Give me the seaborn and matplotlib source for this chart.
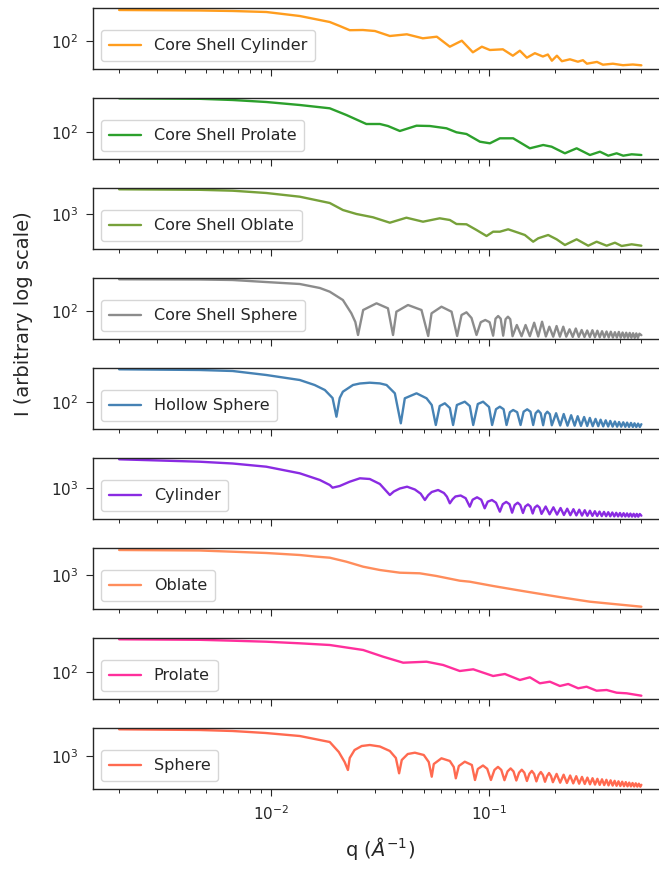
import numpy as np
import pandas as pd
import matplotlib
matplotlib.use("Agg")
import matplotlib.pyplot as plt
import seaborn as sns
from matplotlib.ticker import FixedLocator, NullLocator

# Scattering curves: (q in 1/Angstrom, log10 of intensity in arbitrary units)
CORE_SHELL_CYLINDER = [
    (0.002, 5.07), (0.00468, 5.02), (0.00664, 4.97), (0.00948, 4.87), (0.0135, 4.47),
    (0.01854, 3.87), (0.0206, 3.47), (0.0229, 3.05), (0.0263, 3.07), (0.0299, 2.97),
    (0.0350, 2.47), (0.0419, 2.64), (0.0496, 2.24), (0.0575, 2.40), (0.0660, 1.40),
    (0.0749, 2.00), (0.0842, 0.84), (0.0926, 1.40), (0.1008, 1.07), (0.1156, 1.14),
    (0.1285, 0.50), (0.1384, 1.00), (0.149, 0.30), (0.1622, 0.75), (0.1765, 0.42),
    (0.1861, 0.62), (0.1941, 0.00), (0.2047, 0.50), (0.2158, -0.05), (0.2349, 0.14),
    (0.2556, -0.10), (0.2695, 0.05), (0.2812, -0.30), (0.3126, -0.12), (0.333, -0.40),
    (0.370, -0.30), (0.4117, -0.45), (0.457, -0.38), (0.5, -0.46),
]

CORE_SHELL_PROLATE = [
    (0.002, 5.34), (0.00468, 5.29), (0.00664, 5.17), (0.00948, 4.97), (0.0135, 4.67),
    (0.01854, 4.34), (0.0221, 3.67), (0.0273, 2.77), (0.0315, 2.77), (0.0343, 2.57),
    (0.0389, 2.07), (0.0464, 2.60), (0.0534, 2.57), (0.0637, 2.34), (0.0708, 1.94),
    (0.0787, 1.77), (0.0907, 1.00), (0.1008, 0.84), (0.112, 1.34), (0.1289, 1.34),
    (0.1538, 0.34), (0.1771, 0.67), (0.1936, 0.50), (0.2228, -0.16), (0.2522, 0.34),
    (0.2903, -0.33), (0.3227, 0.00), (0.3524, -0.40), (0.385, -0.16), (0.4128, -0.40),
    (0.4513, -0.26), (0.5, -0.33),
]

CORE_SHELL_OBLATE = [
    (0.002, 5.50), (0.00468, 5.45), (0.00664, 5.36), (0.00948, 5.13), (0.0135, 4.76),
    (0.01854, 4.13), (0.0213, 3.43), (0.0246, 3.03), (0.0293, 2.70), (0.0350, 2.16),
    (0.0417, 2.66), (0.0497, 2.26), (0.0593, 2.60), (0.0660, 2.43), (0.0708, 2.03),
    (0.0787, 2.00), (0.0875, 1.43), (0.0973, 0.83), (0.1043, 1.26), (0.112, 1.26),
    (0.1223, 1.50), (0.136, 1.16), (0.1459, 0.93), (0.1593, 0.26), (0.168, 0.60),
    (0.1867, 0.93), (0.2041, 0.50), (0.2228, -0.07), (0.2522, 0.50), (0.2851, -0.14),
    (0.3116, 0.26), (0.3464, -0.14), (0.3782, 0.16), (0.4060, -0.17), (0.4513, 0.00),
    (0.5, -0.14),
]

CORE_SHELL_SPHERE = [
    (0.002, 5.14), (0.00468, 5.12), (0.00664, 5.07), (0.00941, 4.87), (0.0135, 4.67),
    (0.0167, 4.27), (0.01854, 3.90), (0.0213, 3.07), (0.0233, 1.74), (0.0243, 0.87),
    (0.0250, -0.43), (0.0264, 2.07), (0.0304, 2.74), (0.0343, 2.24), (0.0362, -0.43),
    (0.0375, 1.90), (0.0424, 2.57), (0.0489, 2.07), (0.0525, -0.53), (0.0544, 1.74),
    (0.0604, 2.40), (0.0672, 1.90), (0.0713, -0.53), (0.0747, 1.57), (0.0787, 1.84),
    (0.0830, 1.27), (0.0875, -0.43), (0.0915, 0.85), (0.096, 1.07), (0.1005, 0.85),
    (0.1043, -0.50), (0.107, 1.20), (0.110, 1.47), (0.113, 1.20), (0.116, -0.50),
    (0.119, 1.15), (0.122, 1.40), (0.125, 1.15), (0.1281, -0.55), (0.134, 0.57),
    (0.1409, -0.55), (0.147, 0.57), (0.1538, -0.55), (0.161, 0.80), (0.168, -0.58),
    (0.175, 0.90), (0.1822, -0.58), (0.189, 0.40), (0.1969, -0.60), (0.204, 0.47),
    (0.2113, -0.60), (0.219, 0.40), (0.226, -0.60), (0.234, 0.14), (0.242, -0.62),
    (0.250, 0.22), (0.258, -0.62), (0.266, 0.07), (0.274, -0.63), (0.282, 0.02),
    (0.290, -0.64), (0.298, 0.05), (0.306, -0.65), (0.314, 0.00), (0.322, -0.66),
    (0.330, -0.05), (0.338, -0.66), (0.346, -0.08), (0.354, -0.67), (0.362, -0.10),
    (0.370, -0.68), (0.378, -0.15), (0.386, -0.68), (0.394, -0.12), (0.402, -0.69),
    (0.410, -0.18), (0.418, -0.69), (0.426, -0.20), (0.434, -0.70), (0.442, -0.22),
    (0.450, -0.70), (0.458, -0.25), (0.466, -0.71), (0.474, -0.27), (0.482, -0.71),
    (0.490, -0.30), (0.5, -0.45),
]

HOLLOW_SPHERE = [
    (0.002, 5.24), (0.00468, 5.17), (0.00664, 5.07), (0.00948, 4.67), (0.0135, 4.17),
    (0.0158, 3.67), (0.0176, 3.17), (0.0191, 2.37), (0.0199, 0.50), (0.0206, 2.37),
    (0.0213, 3.00), (0.0237, 3.67), (0.0255, 3.82), (0.0283, 3.90), (0.0315, 3.83),
    (0.0338, 3.67), (0.0369, 2.84), (0.0393, -0.16), (0.0410, 2.34), (0.0464, 2.84),
    (0.0516, 2.34), (0.0545, 1.67), (0.0569, -0.33), (0.0593, 1.57), (0.0626, 1.84),
    (0.0660, 1.37), (0.0683, -0.33), (0.0711, 1.67), (0.0773, 2.00), (0.0815, 1.57),
    (0.0845, -0.33), (0.0887, 1.77), (0.0938, 2.00), (0.0999, 1.47), (0.1032, -0.33),
    (0.1075, 1.25), (0.112, 1.50), (0.1165, 1.25), (0.1202, -0.33), (0.1245, 0.95),
    (0.1289, 1.17), (0.1345, 0.95), (0.1394, -0.33), (0.1440, 1.00), (0.1495, 1.24),
    (0.1548, 1.00), (0.1593, -0.33), (0.1635, 0.85), (0.168, 1.12), (0.1725, 0.85),
    (0.177, -0.35), (0.181, 0.75), (0.185, 1.00), (0.190, 0.75), (0.194, -0.36),
    (0.203, 0.85), (0.212, -0.38), (0.220, 0.77), (0.229, -0.40), (0.238, 0.65),
    (0.247, -0.40), (0.255, 0.55), (0.264, -0.42), (0.273, 0.47), (0.282, -0.43),
    (0.290, 0.38), (0.299, -0.45), (0.308, 0.28), (0.317, -0.45), (0.325, 0.20),
    (0.334, -0.47), (0.343, 0.14), (0.352, -0.48), (0.360, 0.08), (0.369, -0.49),
    (0.378, 0.02), (0.387, -0.50), (0.395, -0.03), (0.404, -0.50), (0.413, -0.06),
    (0.422, -0.51), (0.430, -0.09), (0.439, -0.52), (0.448, -0.12), (0.457, -0.52),
    (0.465, -0.16), (0.474, -0.53), (0.483, -0.19), (0.492, -0.53), (0.5, -0.25),
]

CYLINDER = [
    (0.002, 5.84), (0.00468, 5.60), (0.00664, 5.42), (0.00948, 5.10), (0.0135, 4.44),
    (0.0167, 3.77), (0.01854, 3.27), (0.0191, 3.00), (0.0206, 3.17), (0.0229, 3.60),
    (0.0255, 3.94), (0.0283, 3.87), (0.0315, 3.37), (0.0350, 2.27), (0.0365, 2.62),
    (0.0389, 2.92), (0.0420, 3.10), (0.0456, 2.82), (0.0485, 2.40), (0.0507, 1.77),
    (0.0525, 2.25), (0.0545, 2.57), (0.0583, 2.77), (0.0620, 2.47), (0.0640, 2.10),
    (0.0660, 1.44), (0.0680, 1.85), (0.0700, 2.12), (0.0740, 2.22), (0.0780, 1.95),
    (0.0815, 1.10), (0.0840, 1.80), (0.0880, 2.04), (0.0920, 1.80), (0.0954, 0.94),
    (0.0985, 1.60), (0.1030, 1.77), (0.1075, 1.50), (0.1120, 0.60), (0.1155, 1.35),
    (0.1198, 1.58), (0.1240, 1.35), (0.1275, 0.50), (0.131, 1.27), (0.1353, 1.50),
    (0.139, 1.27), (0.143, 0.47), (0.1465, 1.12), (0.1508, 1.33), (0.1548, 1.12),
    (0.1585, 0.42), (0.162, 1.02), (0.1663, 1.22), (0.1703, 1.02), (0.174, 0.38),
    (0.1818, 1.12), (0.1895, 0.34), (0.1973, 1.04), (0.205, 0.31), (0.2128, 0.97),
    (0.2205, 0.27), (0.2283, 0.90), (0.236, 0.25), (0.2438, 0.85), (0.2515, 0.23),
    (0.2593, 0.80), (0.267, 0.21), (0.2748, 0.75), (0.2825, 0.19), (0.2903, 0.70),
    (0.298, 0.18), (0.3058, 0.65), (0.3135, 0.17), (0.3213, 0.61), (0.329, 0.16),
    (0.3368, 0.58), (0.3445, 0.15), (0.3523, 0.55), (0.36, 0.14), (0.3678, 0.52),
    (0.3755, 0.13), (0.3833, 0.49), (0.391, 0.13), (0.3988, 0.47), (0.4065, 0.12),
    (0.4143, 0.45), (0.422, 0.12), (0.4298, 0.43), (0.4375, 0.11), (0.4453, 0.41),
    (0.453, 0.11), (0.4608, 0.39), (0.4685, 0.10), (0.4763, 0.38), (0.484, 0.10),
    (0.4918, 0.37), (0.5, 0.20),
]

OBLATE = [
    (0.002, 5.50), (0.00468, 5.45), (0.00664, 5.33), (0.00948, 5.20), (0.0135, 5.00),
    (0.0158, 4.85), (0.01854, 4.73), (0.0221, 4.33), (0.0264, 3.83), (0.0315, 3.50),
    (0.0389, 3.23), (0.0480, 3.17), (0.0573, 2.90), (0.0733, 2.43), (0.0815, 2.33),
    (0.1043, 1.90), (0.1336, 1.50), (0.1651, 1.17), (0.2196, 0.73), (0.2903, 0.33),
    (0.385, 0.07), (0.5, -0.17),
]

PROLATE = [
    (0.002, 5.24), (0.00468, 5.19), (0.00664, 5.10), (0.00948, 5.00), (0.0135, 4.84),
    (0.01854, 4.67), (0.0264, 4.17), (0.0326, 3.50), (0.0403, 2.90), (0.0516, 3.00),
    (0.0615, 2.67), (0.0733, 2.07), (0.0845, 2.24), (0.1043, 1.57), (0.1181, 1.77),
    (0.1384, 1.17), (0.1538, 1.44), (0.1710, 0.84), (0.1901, 1.00), (0.2113, 0.57),
    (0.2307, 0.77), (0.2564, 0.34), (0.2803, 0.50), (0.3114, 0.10), (0.3464, 0.17),
    (0.385, -0.10), (0.428, -0.16), (0.5, -0.40),
]

SPHERE = [
    (0.002, 5.67), (0.00468, 5.60), (0.00664, 5.50), (0.00941, 5.30), (0.0135, 5.00),
    (0.01854, 4.40), (0.0204, 3.40), (0.0217, 2.40), (0.02247, 1.60), (0.0229, 2.80),
    (0.0241, 3.60), (0.0260, 4.00), (0.0283, 4.10), (0.0315, 3.95), (0.0350, 3.50),
    (0.0373, 2.80), (0.0386, 1.27), (0.0397, 2.60), (0.0423, 3.20), (0.0456, 3.33),
    (0.0501, 3.10), (0.0528, 2.40), (0.0545, 0.93), (0.0557, 2.20), (0.0604, 2.77),
    (0.0660, 2.50), (0.0688, 1.90), (0.0703, 0.77), (0.0726, 2.00), (0.0773, 2.43),
    (0.0833, 2.10), (0.0861, 0.60), (0.0887, 1.70), (0.0937, 2.05), (0.0980, 1.72),
    (0.1019, 0.60), (0.1058, 1.61), (0.1098, 1.91), (0.1137, 1.61), (0.1176, 0.58),
    (0.1215, 1.46), (0.1255, 1.76), (0.1294, 1.46), (0.1333, 0.55), (0.1372, 1.33),
    (0.1412, 1.63), (0.1451, 1.33), (0.1491, 0.50), (0.1530, 1.21), (0.1570, 1.51),
    (0.1609, 1.21), (0.1648, 0.46), (0.1687, 1.10), (0.1727, 1.40), (0.1766, 1.10),
    (0.1805, 0.42), (0.1845, 1.00), (0.1884, 1.30), (0.1923, 1.00), (0.1962, 0.38),
    (0.2041, 1.21), (0.2119, 0.33), (0.2198, 1.13),
    (0.2276, 0.30), (0.2355, 1.05), (0.2433, 0.26), (0.2512, 0.98), (0.2590, 0.23),
    (0.2669, 0.91), (0.2748, 0.20), (0.2826, 0.84), (0.2905, 0.17), (0.2984, 0.78),
    (0.3062, 0.14), (0.3141, 0.72), (0.3219, 0.11), (0.3298, 0.67), (0.3376, 0.09),
    (0.3455, 0.62), (0.3533, 0.06), (0.3612, 0.57), (0.3690, 0.04), (0.3769, 0.52),
    (0.3847, 0.02), (0.3926, 0.47), (0.4004, 0.00), (0.4083, 0.43), (0.4161, -0.02),
    (0.4240, 0.39), (0.4319, -0.03), (0.4397, 0.34), (0.4476, -0.04), (0.4555, 0.30),
    (0.4633, -0.05), (0.4712, 0.27), (0.4790, -0.06), (0.4869, 0.23), (0.4947, -0.07),
    (0.5, 0.12),
]

MODEL_NAMES = ["Core Shell Cylinder", "Core Shell Prolate", "Core Shell Oblate",
               "Core Shell Sphere", "Hollow Sphere", "Cylinder", "Oblate", "Prolate",
               "Sphere"]
MODEL_DATA = [CORE_SHELL_CYLINDER, CORE_SHELL_PROLATE, CORE_SHELL_OBLATE,
              CORE_SHELL_SPHERE, HOLLOW_SPHERE, CYLINDER, OBLATE, PROLATE, SPHERE]
COLORS = ["#ff9d1e", "#2ca02c", "#77a13a", "#8c8c8c", "#4682b4", "#8a2be2",
          "#ff8d5c", "#ff2f9c", "#ff6a50"]

# labelled decade and log10 display range of each panel
TICK_EXPONENT = [2, 2, 3, 2, 2, 3, 3, 2, 3]
LOG_YLIM = [(-0.85, 5.27), (-0.75, 5.37), (-0.49, 5.63), (-0.85, 5.27), (-0.75, 5.37),
            (-0.15, 5.97), (-0.42, 5.70), (-0.75, 5.37), (-0.32, 5.80)]
Q_LIMITS = (10 ** -2.819, 10 ** -0.181)

sns.set_style("ticks")
plt.rcParams["font.family"] = ["DejaVu Sans"]
plt.rcParams["axes.edgecolor"] = "#262626"
plt.rcParams["axes.linewidth"] = 1.0

W, H = 659, 869
fig = plt.figure(figsize=(W / 100, H / 100), dpi=100)

panel_h = 61.2
for i, (name, pts, color) in enumerate(zip(MODEL_NAMES, MODEL_DATA, COLORS)):
    top = 8 + 90 * i
    ax = fig.add_axes([93 / W, 1 - (top + panel_h) / H, 574.5 / W, panel_h / H])
    arr = np.array(pts)
    df = pd.DataFrame({"q": arr[:, 0], "I": 10 ** arr[:, 1]})
    sns.lineplot(data=df, x="q", y="I", ax=ax, color=color, linewidth=1.7,
                 label=name, sort=False, estimator=None)
    ax.set_xscale("log")
    ax.set_yscale("log")
    ax.set_xlim(*Q_LIMITS)
    lo, hi = LOG_YLIM[i]
    ax.set_ylim(10 ** lo, 10 ** hi)
    ax.yaxis.set_major_locator(FixedLocator([10.0 ** TICK_EXPONENT[i]]))
    ax.yaxis.set_minor_locator(NullLocator())
    ax.tick_params(axis="both", which="major", length=4.8, width=0.8, pad=6,
                   labelsize=11, colors="#262626")
    ax.tick_params(axis="both", which="minor", length=2.8, width=0.7, colors="#262626")
    ax.set_ylabel("")
    if i < len(MODEL_NAMES) - 1:
        ax.tick_params(axis="x", which="both", labelbottom=False)
        ax.set_xlabel("")
    else:
        ax.set_xlabel(r"q ($\AA^{-1}$)", fontsize=14, color="#262626", labelpad=9)
    ax.legend(loc="lower left", fontsize=11.5, frameon=True, borderpad=0.5)

fig.text(24 / W, 1 - 314 / H, "I (arbitrary log scale)", rotation=90,
         ha="center", va="center", fontsize=14, color="#262626")

fig.savefig("out.png", dpi=100)
